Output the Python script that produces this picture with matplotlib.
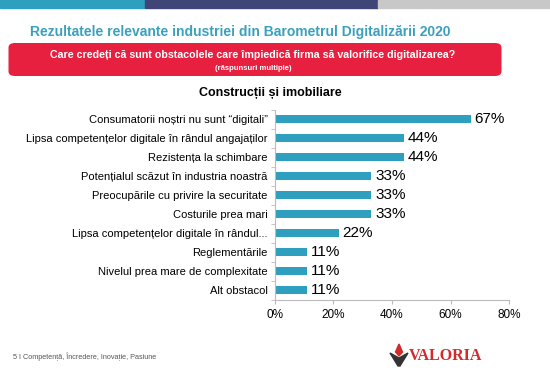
import matplotlib
matplotlib.use("Agg")
import matplotlib.pyplot as plt
from matplotlib.patches import FancyBboxPatch, Rectangle, Polygon
from matplotlib.ticker import FuncFormatter

plt.rcParams['font.family'] = ['Liberation Sans', 'DejaVu Sans']

categories = [
    "Consumatorii noștri nu sunt \u201cdigitali\u201d",
    "Lipsa competențelor digitale în rândul angajaților",
    "Rezistența la schimbare",
    "Potențialul scăzut în industria noastră",
    "Preocupările cu privire la securitate",
    "Costurile prea mari",
    "Lipsa competențelor digitale în rândul...",
    "Reglementările",
    "Nivelul prea mare de complexitate",
    "Alt obstacol",
]
values = [67, 44, 44, 33, 33, 33, 22, 11, 11, 11]
xticks = [0, 20, 40, 60, 80]

title = "Rezultatele relevante industriei din Barometrul Digitalizării 2020"
question = "Care credeți că sunt obstacolele care împiedică firma să valorifice digitalizarea?"
note = "(răspunsuri multiple)"
subtitle = "Construcții și imobiliare"
footer = "5 I Competență, Încredere, Inovație, Pasiune"

W, H = 550, 381
fig = plt.figure(figsize=(5.5, 3.81), dpi=100)

def fx(px): return px / W
def fy(py): return 1 - py / H

# top colored strip
for x0, x1, c in [(0, 145, "#2e9fbf"), (145, 378, "#3f4677"), (378, 550, "#c8c8c8")]:
    fig.patches.append(Rectangle((fx(x0), fy(8)), fx(x1 - x0), 8 / H,
                                 transform=fig.transFigure, color=c, zorder=0))

fig.text(fx(30), fy(32), title, fontsize=10.0, fontweight='bold', color="#3aa0bd",
         ha='left', va='center')

fig.patches.append(FancyBboxPatch((fx(8.5), fy(76)), fx(493), 33 / H,
                                  boxstyle="round,pad=0,rounding_size=0.012",
                                  transform=fig.transFigure, facecolor="#e8203f",
                                  edgecolor="none", zorder=0))
fig.text(fx(253), fy(55), question, fontsize=7.7, fontweight='bold', color='white',
         ha='center', va='center')
fig.text(fx(253), fy(68), note, fontsize=5.5, fontweight='bold', color='white',
         ha='center', va='center')

fig.text(fx(270.5), fy(93), subtitle, fontsize=9, fontweight='bold', color='black',
         ha='center', va='center')

ax = fig.add_axes([fx(274.7), fy(299.5), fx(509.3 - 274.7), (299.5 - 109.5) / H])
y = list(range(len(categories)))
ax.barh(y, values, height=0.4, color="#2e9fbf")
ax.set_ylim(len(categories) - 0.5, -0.5)
ax.set_xlim(0, 80)
ax.set_yticks(y)
ax.set_yticklabels(categories, fontsize=8.0)
ax.set_xticks(xticks)
ax.xaxis.set_major_formatter(FuncFormatter(lambda v, p: f"{int(v)}%"))
ax.tick_params(axis='x', labelsize=8.5, length=3, color="#bbbbbb", pad=4)
ax.tick_params(axis='y', length=0, pad=5)
ax.set_yticks([i + 0.5 for i in range(-1, len(categories))], minor=True)
ax.tick_params(axis='y', which='minor', length=3, color="#bbbbbb")
for s in ['top', 'right']:
    ax.spines[s].set_visible(False)
for s in ['left', 'bottom']:
    ax.spines[s].set_color("#bbbbbb")
    ax.spines[s].set_linewidth(0.8)
for yi, v in zip(y, values):
    ax.text(v + 1.2, yi, f"{v}%", fontsize=11, va='center', ha='left', color='black')

fig.text(fx(13), fy(357), footer, fontsize=5.2, color="#555555", ha='left', va='center')

# logo
fig.text(fx(409), fy(356), "VALORIA", fontsize=11.5, color="#d42a2a", family='Liberation Serif',
         fontweight='bold', ha='left', va='center')
cx, cy = 399, 352
fig.patches.append(Polygon([(fx(cx), fy(cy - 8)), (fx(cx + 3.5), fy(cy)), (fx(cx), fy(cy + 4)),
                            (fx(cx - 3.5), fy(cy))], closed=True, transform=fig.transFigure,
                           color="#d42a2a"))
fig.patches.append(Polygon([(fx(cx - 9), fy(cy + 1)), (fx(cx), fy(cy + 6)), (fx(cx + 9), fy(cy + 1)),
                            (fx(cx + 1), fy(cy + 14)), (fx(cx - 1), fy(cy + 14))], closed=True,
                           transform=fig.transFigure, color="#333333"))

fig.savefig("out.png", dpi=100)
